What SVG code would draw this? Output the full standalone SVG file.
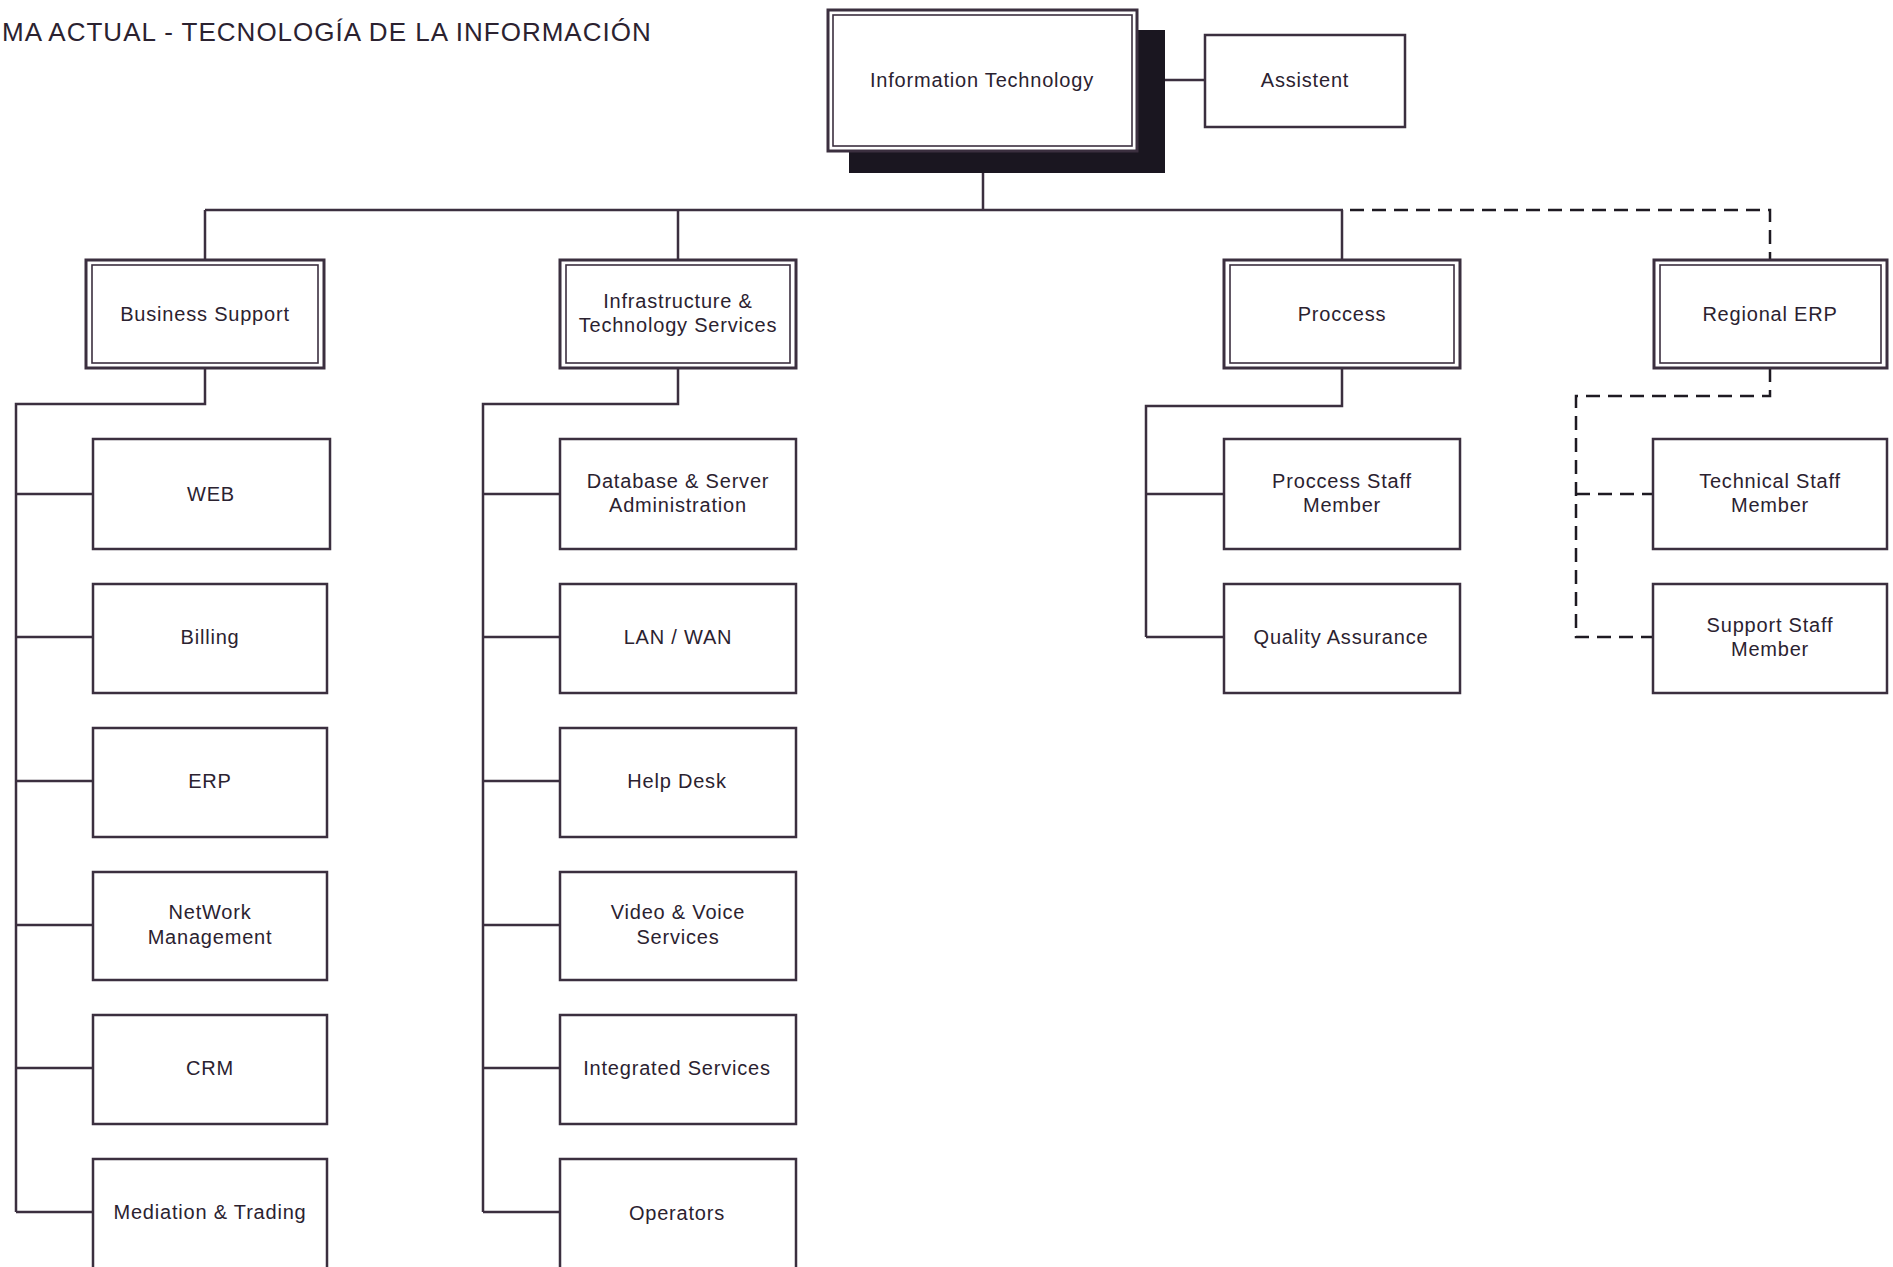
<svg xmlns="http://www.w3.org/2000/svg" width="1893" height="1267" viewBox="0 0 1893 1267">
<style>
.t{font-family:"Liberation Sans",Arial,sans-serif;font-size:20px;fill:#2b2230;letter-spacing:0.8px;text-anchor:middle;dominant-baseline:central}
.title{font-family:"Liberation Sans",Arial,sans-serif;font-size:26px;fill:#2b2230;letter-spacing:1px}
.box{fill:#fff;stroke:#3b2f3f;stroke-width:2.5}
.outer{fill:#fff;stroke:#3b2f3f;stroke-width:3}
.inner{fill:none;stroke:#3b2f3f;stroke-width:1.6}
.ln{fill:none;stroke:#3b2f3f;stroke-width:2.5}
.dash{fill:none;stroke:#1e1a22;stroke-width:2.5;stroke-dasharray:14 8}
</style>
<rect width="1893" height="1267" fill="#fff"/>
<text class="title" x="2" y="41">MA ACTUAL - TECNOLOGÍA DE LA INFORMACIÓN</text>

<g id="connectors">
  <path class="ln" d="M983 173 V210 M205 210 H1343 M205 210 V260 M678 210 V260 M1342 210 V260"/>
  <path class="ln" d="M1162 80 H1205"/>
  <path class="dash" d="M1350 210 H1770 V260"/>
  <path class="ln" d="M205 368 V404 H16 V1212 M16 494 H93 M16 637 H93 M16 781 H93 M16 925 H93 M16 1068 H93 M16 1212 H93"/>
  <path class="ln" d="M678 368 V404 H483 V1212 M483 494 H560 M483 637 H560 M483 781 H560 M483 925 H560 M483 1068 H560 M483 1212 H560"/>
  <path class="ln" d="M1342 368 V406 H1146 V637 M1146 494 H1224 M1146 637 H1224"/>
  <path class="dash" d="M1770 368 V396 H1576 V637 H1653 M1576 494 H1653"/>
</g>

<g id="it">
  <rect x="849" y="30" width="316" height="143" fill="#1a1620"/>
  <rect class="outer" x="828" y="10" width="309" height="141"/>
  <rect class="inner" x="833" y="15" width="299" height="131"/>
  <text class="t" x="982" y="80">Information Technology</text>
</g>
<g id="assistent">
  <rect class="box" x="1205" y="35" width="200" height="92"/>
  <text class="t" x="1305" y="80">Assistent</text>
</g>

<g id="business-support">
  <rect class="outer" x="86" y="260" width="238" height="108"/>
  <rect class="inner" x="92" y="265" width="226" height="98"/>
  <text class="t" x="205" y="314">Business Support</text>
</g>
<g id="infrastructure">
  <rect class="outer" x="560" y="260" width="236" height="108"/>
  <rect class="inner" x="566" y="265" width="224" height="98"/>
  <text class="t" x="678" y="301">Infrastructure &amp;</text>
  <text class="t" x="678" y="325">Technology Services</text>
</g>
<g id="proccess">
  <rect class="outer" x="1224" y="260" width="236" height="108"/>
  <rect class="inner" x="1230" y="265" width="224" height="98"/>
  <text class="t" x="1342" y="314">Proccess</text>
</g>
<g id="regional-erp">
  <rect class="outer" x="1654" y="260" width="233" height="108"/>
  <rect class="inner" x="1660" y="265" width="221" height="98"/>
  <text class="t" x="1770" y="314">Regional ERP</text>
</g>

<g id="web"><rect class="box" x="93" y="439" width="237" height="110"/><text class="t" x="211" y="494">WEB</text></g>
<g id="billing"><rect class="box" x="93" y="584" width="234" height="109"/><text class="t" x="210" y="637">Billing</text></g>
<g id="erp"><rect class="box" x="93" y="728" width="234" height="109"/><text class="t" x="210" y="781">ERP</text></g>
<g id="network"><rect class="box" x="93" y="872" width="234" height="108"/><text class="t" x="210" y="912">NetWork</text><text class="t" x="210" y="937">Management</text></g>
<g id="crm"><rect class="box" x="93" y="1015" width="234" height="109"/><text class="t" x="210" y="1068">CRM</text></g>
<g id="mediation"><rect class="box" x="93" y="1159" width="234" height="115"/><text class="t" x="210" y="1212">Mediation &amp; Trading</text></g>

<g id="database"><rect class="box" x="560" y="439" width="236" height="110"/><text class="t" x="678" y="481">Database &amp; Server</text><text class="t" x="678" y="505">Administration</text></g>
<g id="lanwan"><rect class="box" x="560" y="584" width="236" height="109"/><text class="t" x="678" y="637">LAN / WAN</text></g>
<g id="helpdesk"><rect class="box" x="560" y="728" width="236" height="109"/><text class="t" x="677" y="781">Help Desk</text></g>
<g id="video"><rect class="box" x="560" y="872" width="236" height="108"/><text class="t" x="678" y="912">Video &amp; Voice</text><text class="t" x="678" y="937">Services</text></g>
<g id="integrated"><rect class="box" x="560" y="1015" width="236" height="109"/><text class="t" x="677" y="1068">Integrated Services</text></g>
<g id="operators"><rect class="box" x="560" y="1159" width="236" height="115"/><text class="t" x="677" y="1213">Operators</text></g>

<g id="proccess-staff"><rect class="box" x="1224" y="439" width="236" height="110"/><text class="t" x="1342" y="481">Proccess Staff</text><text class="t" x="1342" y="505">Member</text></g>
<g id="qa"><rect class="box" x="1224" y="584" width="236" height="109"/><text class="t" x="1341" y="637">Quality Assurance</text></g>

<g id="technical-staff"><rect class="box" x="1653" y="439" width="234" height="110"/><text class="t" x="1770" y="481">Technical Staff</text><text class="t" x="1770" y="505">Member</text></g>
<g id="support-staff"><rect class="box" x="1653" y="584" width="234" height="109"/><text class="t" x="1770" y="625">Support Staff</text><text class="t" x="1770" y="649">Member</text></g>
</svg>
